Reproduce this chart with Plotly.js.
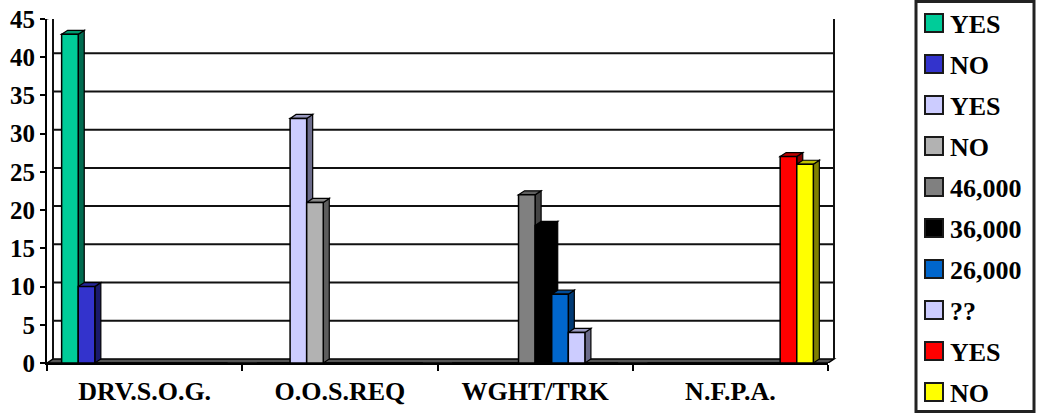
<!DOCTYPE html>
<html><head><meta charset="utf-8">
<script src="https://cdn.plot.ly/plotly-3.0.1.min.js"></script>
<style>html,body{margin:0;padding:0;background:#fff}#chart{width:1038px;height:417px}</style>
</head><body><div id="chart"></div>
<script>
// ---- data ----
const categories = ['DRV.S.O.G.', 'O.O.S.REQ', 'WGHT/TRK', 'N.F.P.A.'];
const seriesNames = ['YES', 'NO', 'YES', 'NO', '46,000', '36,000', '26,000', '??', 'YES', 'NO'];
const drvYes  = [43, 0, 0, 0];
const drvNo   = [10, 0, 0, 0];
const oosYes  = [0, 32, 0, 0];
const oosNo   = [0, 21, 0, 0];
const wght46  = [0, 0, 22, 0];
const wght36  = [0, 0, 18, 0];
const wght26  = [0, 0, 9, 0];
const wghtUnk = [0, 0, 4, 0];
const nfpaYes = [0, 0, 0, 27];
const nfpaNo  = [0, 0, 0, 26];
const seriesValues = [drvYes, drvNo, oosYes, oosNo, wght46, wght36, wght26, wghtUnk, nfpaYes, nfpaNo];
const yTicks = [0, 5, 10, 15, 20, 25, 30, 35, 40, 45];

// ---- style ----
const frontColors = ['#00cc99', '#3333cc', '#ccccff', '#b2b2b2', '#808080', '#000000', '#0066cc', '#ccccff', '#ff0000', '#ffff00'];
const sideColors  = ['#006b50', '#1a1a6b', '#6b6b8a', '#5e5e5e', '#444444', '#000000', '#003a75', '#6b6b8a', '#850000', '#808000'];
const topColors   = ['#00996f', '#262699', '#9999bf', '#888888', '#5f5f5f', '#000000', '#004c99', '#9999bf', '#bf0000', '#bfbf00'];
const FONT = 'Liberation Serif, Times New Roman, serif';

const W = 1038, H = 417;
const M = {l: 47, r: 210, t: 19, b: 54, pad: 0, autoexpand: false};
const plotW = W - M.l - M.r;
const plotH = H - M.t - M.b;
const YMAX = 45;
const BARGAP = 0.15;
const NS = seriesValues.length;
const DX_PX = 6, DY_PX = 4;
const dxCat = DX_PX / (plotW / categories.length);
const dyVal = DY_PX / (plotH / YMAX);
const dxPaper = DX_PX / plotW;
// pixel -> paper helpers (layout positions only)
const px = v => (v - M.l) / plotW;
const py = v => (H - M.b - v) / plotH;

const traces = seriesValues.map((vals, i) => ({
  type: 'bar', x: categories, y: vals, name: seriesNames[i],
  marker: {color: frontColors[i], line: {color: '#000', width: 1.5}},
  hoverinfo: 'skip'
}));

const shapes = [];
const annotations = [];
// floor
shapes.push({type: 'path', xref: 'paper', yref: 'y', layer: 'below',
  path: `M 0,0 L ${dxPaper},${dyVal} L ${1 + dxPaper},${dyVal} L 1,0 Z`,
  fillcolor: '#555', line: {color: '#000', width: 1.5}});
// back wall gridlines
yTicks.forEach(t => {
  if (t === 0) return;
  shapes.push({type: 'line', xref: 'paper', yref: 'y', layer: 'below',
    x0: dxPaper, x1: 1 + dxPaper, y0: t + dyVal, y1: t + dyVal,
    line: {color: '#111', width: t === YMAX ? 2.5 : 2}});
});
// back wall verticals
[dxPaper, 1 + dxPaper].forEach(xp => shapes.push({type: 'line', xref: 'paper', yref: 'y', layer: 'below',
  x0: xp, x1: xp, y0: dyVal, y1: YMAX + dyVal, line: {color: '#111', width: 2}}));
// top-left diagonal of side wall
shapes.push({type: 'line', xref: 'paper', yref: 'y', layer: 'below',
  x0: 0, x1: dxPaper, y0: YMAX, y1: YMAX + dyVal, line: {color: '#111', width: 2}});

// 3D side and top faces of bars
const slot = (1 - BARGAP) / NS;
seriesValues.forEach((vals, i) => {
  vals.forEach((v, c) => {
    if (!v) return;
    const x0 = c - (1 - BARGAP) / 2 + slot * i;
    const x1 = x0 + slot;
    shapes.push({type: 'path', xref: 'x', yref: 'y', layer: 'below',
      path: `M ${x1},0 L ${x1 + dxCat},${dyVal} L ${x1 + dxCat},${v + dyVal} L ${x1},${v} Z`,
      fillcolor: sideColors[i], line: {color: '#000', width: 1.2}});
    shapes.push({type: 'path', xref: 'x', yref: 'y', layer: 'below',
      path: `M ${x0},${v} L ${x0 + dxCat},${v + dyVal} L ${x1 + dxCat},${v + dyVal} L ${x1},${v} Z`,
      fillcolor: topColors[i], line: {color: '#000', width: 1.2}});
  });
});

// legend box (drawn from the series names / colours)
const LEG = {left: 916, right: 1034, top: 1.5, bottom: 411.5, first: 23, step: 41, sw: 18, swLeft: 925, textLeft: 948};
shapes.push({type: 'rect', xref: 'paper', yref: 'paper', layer: 'below',
  x0: px(LEG.left), x1: px(LEG.right), y0: py(LEG.bottom), y1: py(LEG.top),
  fillcolor: '#fff', line: {color: '#222', width: 3}});
seriesNames.forEach((name, k) => {
  const cy = LEG.first + LEG.step * k;
  shapes.push({type: 'rect', xref: 'paper', yref: 'paper', layer: 'above',
    x0: px(LEG.swLeft), x1: px(LEG.swLeft + LEG.sw), y0: py(cy + LEG.sw / 2), y1: py(cy - LEG.sw / 2),
    fillcolor: frontColors[k], line: {color: '#1a1a1a', width: 2}});
  annotations.push({xref: 'paper', yref: 'paper', x: px(LEG.textLeft), y: py(cy + 1), xanchor: 'left', yanchor: 'middle',
    showarrow: false, text: name, font: {family: FONT, size: 26, color: '#000', weight: 'bold'}});
});

const layout = {
  width: W, height: H, margin: M,
  paper_bgcolor: '#fff', plot_bgcolor: 'rgba(0,0,0,0)',
  barmode: 'group', bargap: BARGAP, bargroupgap: 0,
  showlegend: false,
  font: {family: FONT, color: '#000', size: 25, weight: 'bold'},
  xaxis: {type: 'category', showgrid: false, zeroline: false, showline: true, linecolor: '#000', linewidth: 2,
    ticks: 'outside', tickson: 'boundaries', ticklen: 6, tickwidth: 2, tickcolor: '#000', ticklabelstandoff: 4,
    tickfont: {family: FONT, size: 26, color: '#000', weight: 'bold'}, fixedrange: true},
  yaxis: {range: [0, YMAX], tickvals: yTicks, showgrid: false, zeroline: false, showline: true, linecolor: '#000', linewidth: 2,
    ticks: 'outside', ticklen: 5, tickwidth: 2, tickcolor: '#000',
    tickfont: {family: FONT, size: 25, color: '#000', weight: 'bold'}, fixedrange: true},
  shapes: shapes,
  annotations: annotations
};

Plotly.newPlot('chart', traces, layout, {displayModeBar: false, staticPlot: true});
</script>
</body></html>
